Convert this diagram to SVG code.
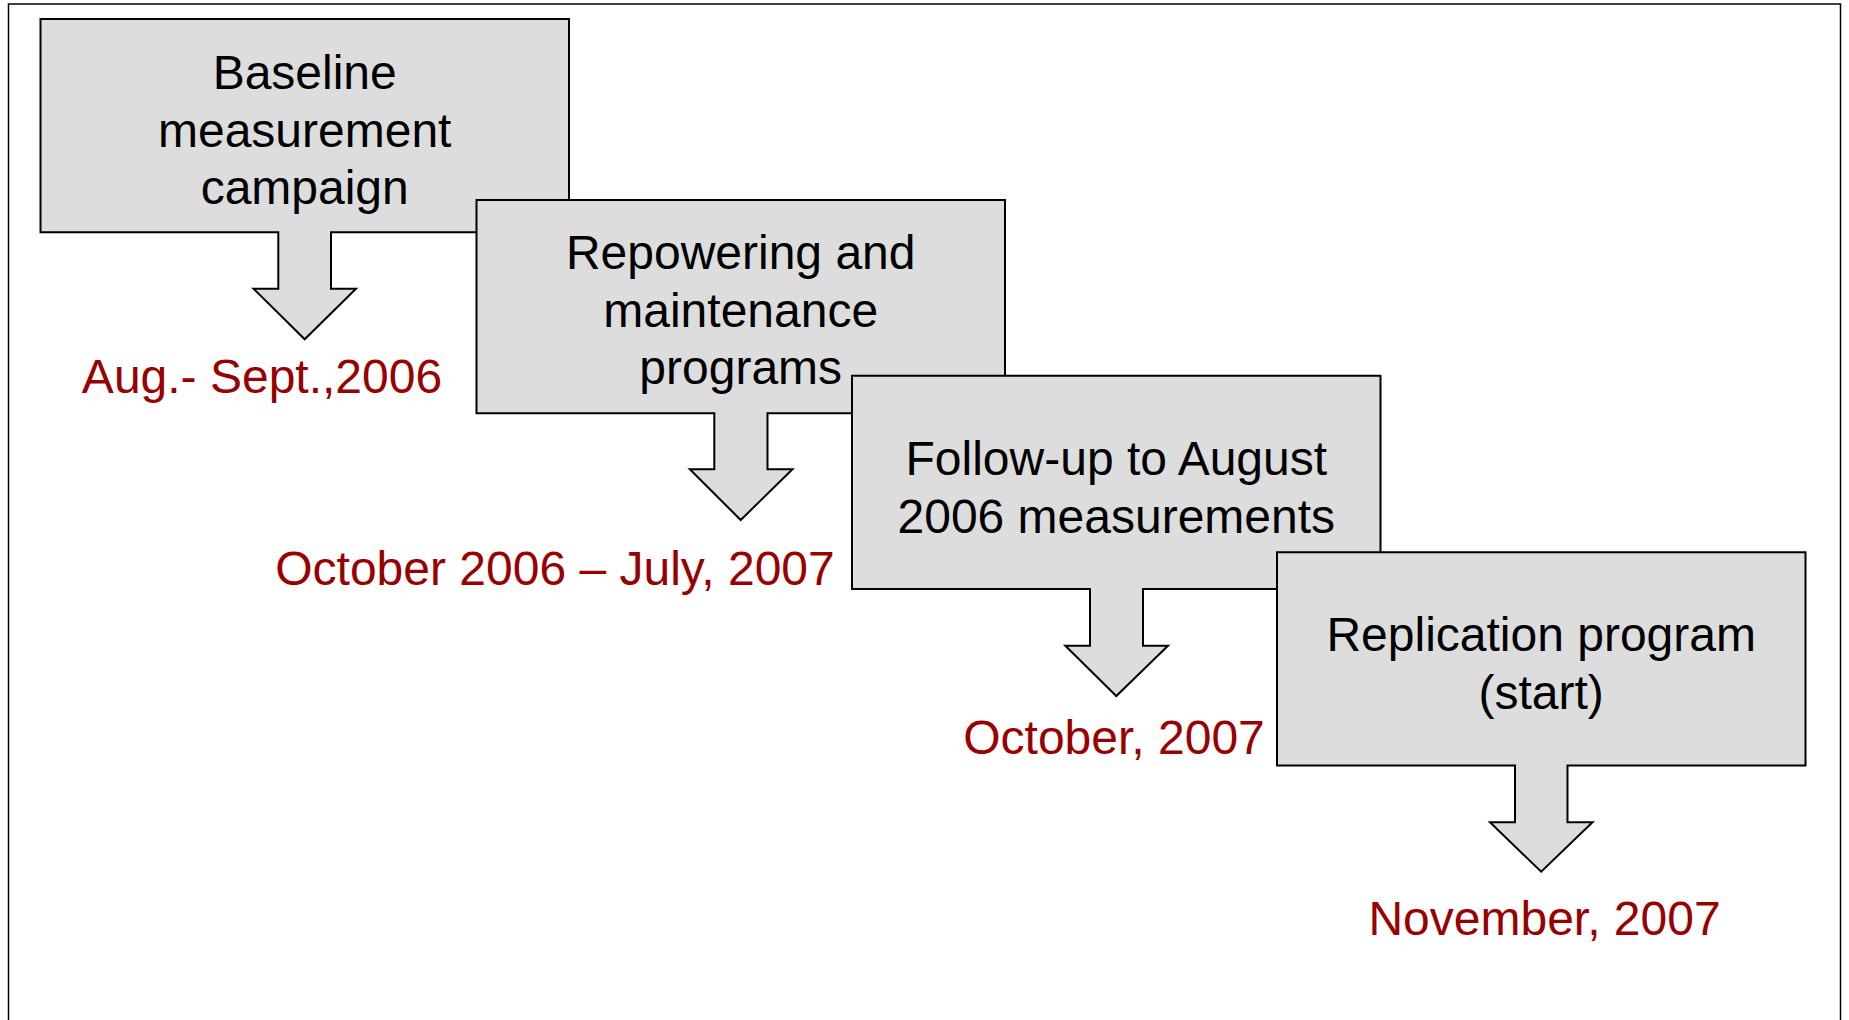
<svg xmlns="http://www.w3.org/2000/svg" width="1849" height="1020" viewBox="0 0 1849 1020">
<style>
.frame{fill:none;stroke:#000;stroke-width:1.5}
.callout{fill:#DDDDDD;stroke:#000;stroke-width:2;stroke-linejoin:miter}
.label{font-family:"Liberation Sans",Arial,sans-serif;font-size:48px;fill:#000;text-anchor:middle}
.date{font-family:"Liberation Sans",Arial,sans-serif;font-size:48px;fill:#990000;text-anchor:middle}
</style>
<rect x="0" y="0" width="1849" height="1020" fill="#fff"/>
<rect class="frame" x="8.5" y="4" width="1832" height="1030"/>
<g id="node1">
<path class="callout" d="M40.5,19 H569 V232.3 H331 V288.7 H356 L304.7,339.3 L253.5,288.7 H278.3 V232.3 H40.5 Z"/>
<text class="label" x="304.7" y="89.3">Baseline</text>
<text class="label" x="304.7" y="146.8">measurement</text>
<text class="label" x="304.7" y="204.3">campaign</text>
<text class="date" x="262" y="393.3">Aug.- Sept.,2006</text>
</g>
<g id="node2">
<path class="callout" d="M476.5,200 H1005 V413.3 H767.5 V469.3 H792.5 L740.7,520 L689.8,469.3 H714.3 V413.3 H476.5 Z"/>
<text class="label" x="740.7" y="269.3">Repowering and</text>
<text class="label" x="740.7" y="326.8">maintenance</text>
<text class="label" x="740.7" y="384.3">programs</text>
<text class="date" x="555" y="585">October 2006 – July, 2007</text>
</g>
<g id="node3">
<path class="callout" d="M852,375.7 H1380.5 V589 H1143 V645.7 H1168 L1116.3,696 L1065.3,645.7 H1090 V589 H852 Z"/>
<text class="label" x="1116.3" y="475">Follow-up to August</text>
<text class="label" x="1116.3" y="532.5">2006 measurements</text>
<text class="date" x="1114" y="754.3">October, 2007</text>
</g>
<g id="node4">
<path class="callout" d="M1277,552.3 H1805.5 V765.5 H1567.5 V822.3 H1592.5 L1541.2,871.7 L1490,822.3 H1515 V765.5 H1277 Z"/>
<text class="label" x="1541.2" y="651">Replication program</text>
<text class="label" x="1541.2" y="708.5">(start)</text>
<text class="date" x="1544.5" y="935">November, 2007</text>
</g>
</svg>
